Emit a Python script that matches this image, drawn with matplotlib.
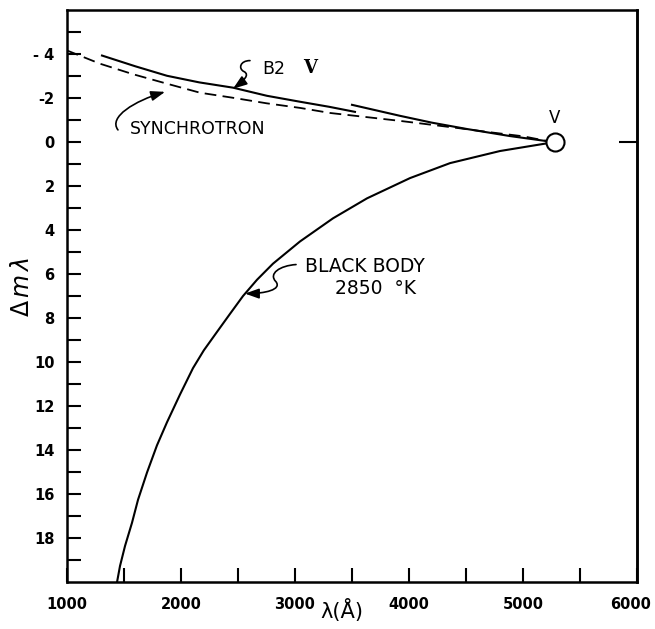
import matplotlib
matplotlib.use("Agg")
import matplotlib.pyplot as plt
import matplotlib.transforms as mtransforms
from matplotlib.patches import FancyArrowPatch
from matplotlib.path import Path

plt.rcParams['font.family'] = ['DejaVu Sans']
plt.rcParams['axes.unicode_minus'] = False

# curves (wavelength in Angstrom, delta m)
bb_wl = [5281, 5175, 4798, 4360, 4009, 3632, 3333, 3044, 2807, 2667, 2544, 2430,
         2316, 2200, 2105, 1991, 1877, 1789, 1702, 1623, 1570, 1509, 1465, 1439]
bb_dm = [0.0, 0.09, 0.41, 0.96, 1.64, 2.56, 3.47, 4.52, 5.53, 6.26, 7.00, 7.81,
         8.63, 9.47, 10.28, 11.48, 12.74, 13.79, 15.02, 16.26, 17.31, 18.36, 19.27, 20.0]

b2v_wl_a = [1307, 1600, 1877, 2160, 2456, 2754, 3044, 3300, 3526]
b2v_dm_a = [-3.93, -3.44, -3.01, -2.71, -2.47, -2.10, -1.83, -1.60, -1.37]
b2v_wl_b = [3500, 3921, 4200, 4509, 4886, 5237, 5281]
b2v_dm_b = [-1.69, -1.19, -0.88, -0.59, -0.27, -0.02, 0.0]

syn_wl = [1000, 1289, 1580, 1877, 2167, 2456, 2750, 3044, 3307, 3921, 4421, 4684, 5000, 5219, 5281]
syn_dm = [-4.16, -3.56, -3.08, -2.65, -2.24, -2.01, -1.76, -1.55, -1.32, -0.96, -0.64, -0.46,
          -0.26, -0.04, 0.0]

v_point = (5281, 0.0)

xticks_major = [1000, 2000, 3000, 4000, 5000, 6000]
xticks_minor = [1500, 2500, 3500, 4500, 5500]
yticks_major = [-4, -2, 0, 2, 4, 6, 8, 10, 12, 14, 16, 18]
yticks_minor = [-5, -3, -1, 1, 3, 5, 7, 9, 11, 13, 15, 17, 19]
ytick_labels = ['- 4', '-2', '0', '2', '4', '6', '8', '10', '12', '14', '16', '18']

fig = plt.figure(figsize=(6.55, 6.29), dpi=100)
ax = fig.add_axes([0.1023, 0.0747, 0.8702, 0.9094])

ax.plot(bb_wl, bb_dm, color='black', lw=1.5, solid_joinstyle='round')
ax.plot(b2v_wl_a, b2v_dm_a, color='black', lw=1.5)
ax.plot(b2v_wl_b, b2v_dm_b, color='black', lw=1.5)
ax.plot(syn_wl, syn_dm, color='black', lw=1.3, linestyle=(0, (6.5, 3.5)))
ax.plot(*v_point, marker='o', ms=13, mfc='white', mec='black', mew=1.5, zorder=5)

ax.set_xlim(1000, 6000)
ax.set_ylim(20, -6)

ax.set_xticks(xticks_major)
ax.set_xticks(xticks_minor, minor=True)
ax.set_yticks(yticks_major)
ax.set_yticklabels(ytick_labels)
ax.set_yticks(yticks_minor, minor=True)
ax.tick_params(which='both', direction='in', length=10, width=1.5,
               top=False, right=False, labelsize=10.5)
ax.tick_params(axis='x', pad=11)
ax.tick_params(axis='y', pad=9)
for lab in ax.get_xticklabels() + ax.get_yticklabels():
    lab.set_fontweight('bold')
# last x label sits a bit left of the corner, as in the original
last = ax.get_xticklabels()[-1]
last.set_transform(last.get_transform() +
                   mtransforms.ScaledTranslation(-6 / 100, 0, fig.dpi_scale_trans))
for sp in ax.spines.values():
    sp.set_linewidth(1.8)

# single tick on the right spine at 0
sec = ax.secondary_yaxis('right')
sec.set_yticks([0])
sec.set_yticklabels([''])
sec.tick_params(direction='in', length=13, width=1.5)
sec.spines['right'].set_linewidth(1.8)

ax.set_xlabel('λ(Å)', fontsize=15)
ax.xaxis.set_label_coords(0.482, -0.030)
ax.set_ylabel(r'$\Delta\,m\,\lambda$', fontsize=17)
ax.yaxis.set_label_coords(-0.058, 0.516)

# labels
txt = dict(color='black', va='center')
ax.text(1553, -0.59, 'SYNCHROTRON', ha='left', fontsize=12.5, **txt)
ax.text(2711, -3.33, 'B2', ha='left', fontsize=12.5, **txt)
ax.text(3070, -3.36, 'V', ha='left', fontsize=13, family='DejaVu Serif',
        fontweight='bold', **txt)
ax.text(3088, 5.66, 'BLACK BODY', ha='left', fontsize=13.5, **txt)
ax.text(3351, 6.67, '2850  °K', ha='left', fontsize=13.5, **txt)
ax.text(5281, -1.1, 'V', ha='center', fontsize=12, **txt)

# squiggly pointers
C = [Path.MOVETO, Path.CURVE4, Path.CURVE4, Path.CURVE4]
arrows = [
    ([(2605, -3.70), (2518, -3.70), (2500, -3.33), (2553, -3.20),
      (2605, -3.06), (2553, -2.79), (2456, -2.42)], C + C[1:]),
    ([(1447, -0.55), (1360, -1.14), (1596, -1.87), (1860, -2.28)], C),
    ([(3009, 5.57), (2868, 5.62), (2763, 5.98), (2833, 6.35),
      (2886, 6.71), (2737, 6.89), (2561, 6.89)], C + C[1:]),
]
for verts, codes in arrows:
    ap = FancyArrowPatch(path=Path(verts, codes),
                         arrowstyle='-|>,head_length=0.7,head_width=0.25',
                         mutation_scale=12, lw=1.2, color='black')
    ax.add_patch(ap)

fig.savefig('out.png', dpi=100)
